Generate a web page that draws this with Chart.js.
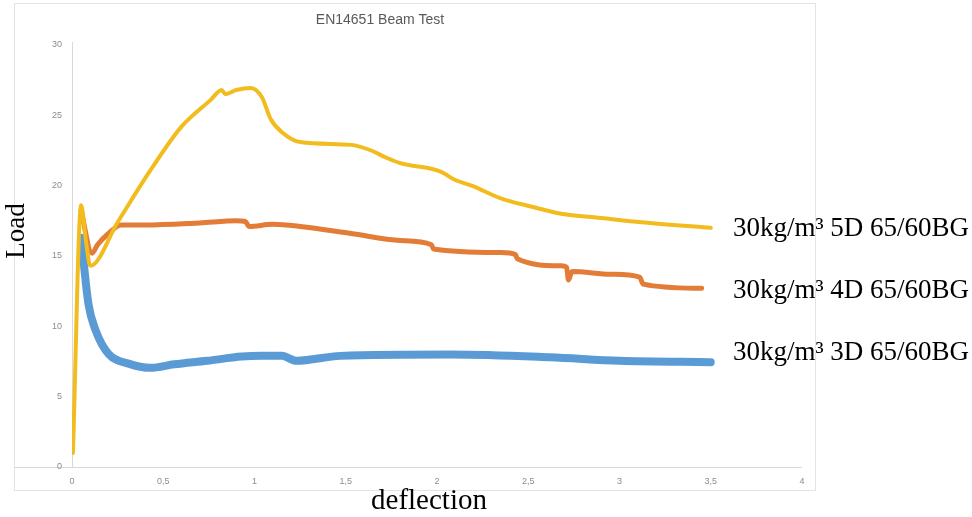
<!DOCTYPE html>
<html>
<head>
<meta charset="utf-8">
<script src="https://cdn.jsdelivr.net/npm/chart.js@4.4.1/dist/chart.umd.min.js"></script>
<style>
  html, body { margin: 0; padding: 0; background: #ffffff; }
  #wrap { position: relative; width: 972px; height: 517px; }
  canvas { display: block; }
</style>
</head>
<body>
<div id="wrap"><canvas id="c" width="972" height="517"></canvas></div>
<script>
// ---- data ----
const chartTitle = 'EN14651 Beam Test';
const xAxisTitle = 'deflection';
const yAxisTitle = 'Load';
const seriesNames = ['30kg/m³ 5D 65/60BG', '30kg/m³ 4D 65/60BG', '30kg/m³ 3D 65/60BG'];
const xTickLabels = ['0', '0,5', '1', '1,5', '2', '2,5', '3', '3,5', '4'];

// 5D (yellow)
const deflection5D = [0.005, 0.05, 0.077, 0.10, 0.25, 0.43, 0.60, 0.76, 0.82, 0.84, 0.90, 0.98, 1.04, 1.09, 1.15, 1.25, 1.53, 1.64, 1.72, 1.80, 2.02, 2.10, 2.19, 2.35, 2.52, 2.68, 2.90, 3.12, 3.50];
const load5D       = [1.0,   18.6, 16.0,  14.3, 17.4, 21.1, 24.2, 26.1, 26.8, 26.5, 26.8, 26.95, 26.3, 24.7, 23.8, 23.1, 22.9, 22.5, 22.0, 21.6, 21.0, 20.4, 20.0, 19.1, 18.5, 18.0, 17.7, 17.4, 17.0];

// 4D (orange)
const deflection4D = [0.05, 0.11, 0.14, 0.20, 0.27, 0.40, 0.70, 0.90, 0.95, 0.97, 1.10, 1.25, 1.53, 1.80, 1.97, 1.98, 2.35, 2.43, 2.44, 2.68, 2.71, 2.72, 2.74, 2.95, 3.11, 3.13, 3.45];
const load4D       = [18.2, 15.2, 15.8, 16.6, 17.2, 17.2, 17.35, 17.5, 17.45, 17.1, 17.25, 17.1, 16.6, 16.1, 15.8, 15.5, 15.25, 15.1, 14.8, 14.3, 14.2, 13.3, 13.9, 13.7, 13.5, 13.0, 12.7];

// 3D (blue)
const deflection3D = [0.05, 0.09, 0.13, 0.20, 0.31, 0.43, 0.56, 0.74, 0.93, 1.04, 1.15, 1.23, 1.47, 2.08, 2.62, 3.00, 3.50];
const load3D       = [16.3, 11.6, 9.7,  8.05, 7.35, 7.05, 7.3,  7.55, 7.85, 7.9,  7.9,  7.55, 7.9,  8.0,  7.8,  7.55, 7.45];

const pts = (xs, ys) => xs.map((x, i) => ({ x: x, y: ys[i] }));

// ---- decorations plugin ----
const deco = {
  id: 'deco',
  beforeDraw(chart) {
    const ctx = chart.ctx;
    ctx.save();
    ctx.fillStyle = '#ffffff';
    ctx.fillRect(0, 0, chart.width, chart.height);
    // chart box border
    ctx.strokeStyle = '#e3e3e3';
    ctx.lineWidth = 1;
    ctx.strokeRect(14.5, 3.5, 801, 487);
    // horizontal axis line extending to the box
    const ys = chart.scales.y, xs = chart.scales.x;
    const y0 = Math.round(ys.getPixelForValue(0)) + 0.5;
    ctx.strokeStyle = '#d9d9d9';
    ctx.beginPath();
    ctx.moveTo(14, y0);
    ctx.lineTo(xs.getPixelForValue(4), y0);
    ctx.stroke();
    // vertical axis line
    const x0 = Math.round(xs.getPixelForValue(0)) + 0.5;
    ctx.beginPath();
    ctx.moveTo(x0, ys.getPixelForValue(30) - 3);
    ctx.lineTo(x0, y0);
    ctx.stroke();
    // title
    ctx.fillStyle = '#595959';
    ctx.font = '14px "Liberation Sans", Arial, sans-serif';
    ctx.textAlign = 'center';
    ctx.textBaseline = 'middle';
    ctx.fillText(chartTitle, 380, 20);
    ctx.restore();
  },
  afterDraw(chart) {
    const ctx = chart.ctx;
    const ys = chart.scales.y;
    ctx.save();
    ctx.fillStyle = '#000000';
    ctx.textBaseline = 'middle';
    // axis titles
    ctx.font = '29px "Liberation Serif", "Times New Roman", serif';
    ctx.textAlign = 'center';
    ctx.fillText(xAxisTitle, 429, 501);
    ctx.save();
    ctx.translate(17, 231);
    ctx.rotate(-Math.PI / 2);
    ctx.font = '27px "Liberation Serif", "Times New Roman", serif';
    ctx.fillText(yAxisTitle, 0, 0);
    ctx.restore();
    // series labels next to line ends
    ctx.font = '27px "Liberation Serif", "Times New Roman", serif';
    ctx.textAlign = 'left';
    const anchors = [16.96, 12.54, 8.12];
    seriesNames.forEach((n, i) => {
      ctx.fillText(n, 733, ys.getPixelForValue(anchors[i]));
    });
    ctx.restore();
  }
};

new Chart(document.getElementById('c'), {
  type: 'line',
  data: {
    datasets: [
      { label: seriesNames[0], data: pts(deflection5D, load5D), borderColor: '#F2BC1E', borderWidth: 4 },
      { label: seriesNames[1], data: pts(deflection4D, load4D), borderColor: '#E27C37', borderWidth: 5 },
      { label: seriesNames[2], data: pts(deflection3D, load3D), borderColor: '#5B9BD5', borderWidth: 8 }
    ]
  },
  options: {
    responsive: false,
    animation: false,
    devicePixelRatio: 1,
    layout: { padding: { left: 0, right: 170, top: 45, bottom: 0 } },
    elements: {
      point: { radius: 0 },
      line: { cubicInterpolationMode: 'monotone', borderCapStyle: 'round', borderJoinStyle: 'round', fill: false }
    },
    plugins: { legend: { display: false }, title: { display: false }, tooltip: { enabled: false } },
    scales: {
      x: {
        type: 'linear', min: 0, max: 4,
        afterFit(s) { s.height = 50; },
        grid: { display: false, drawTicks: false },
        border: { display: false },
        ticks: {
          stepSize: 0.5, padding: 9, color: '#8c8c8c', maxRotation: 0,
          font: { size: 9, family: '"Liberation Sans", Arial, sans-serif' },
          callback: (v) => xTickLabels[Math.round(v * 2)]
        }
      },
      y: {
        type: 'linear', min: 0, max: 30,
        afterFit(s) { s.width = 72; },
        grid: { display: false, drawTicks: false },
        border: { display: false },
        ticks: {
          stepSize: 5, padding: 10, color: '#8c8c8c',
          font: { size: 9, family: '"Liberation Sans", Arial, sans-serif' }
        }
      }
    }
  },
  plugins: [deco]
});
</script>
</body>
</html>
